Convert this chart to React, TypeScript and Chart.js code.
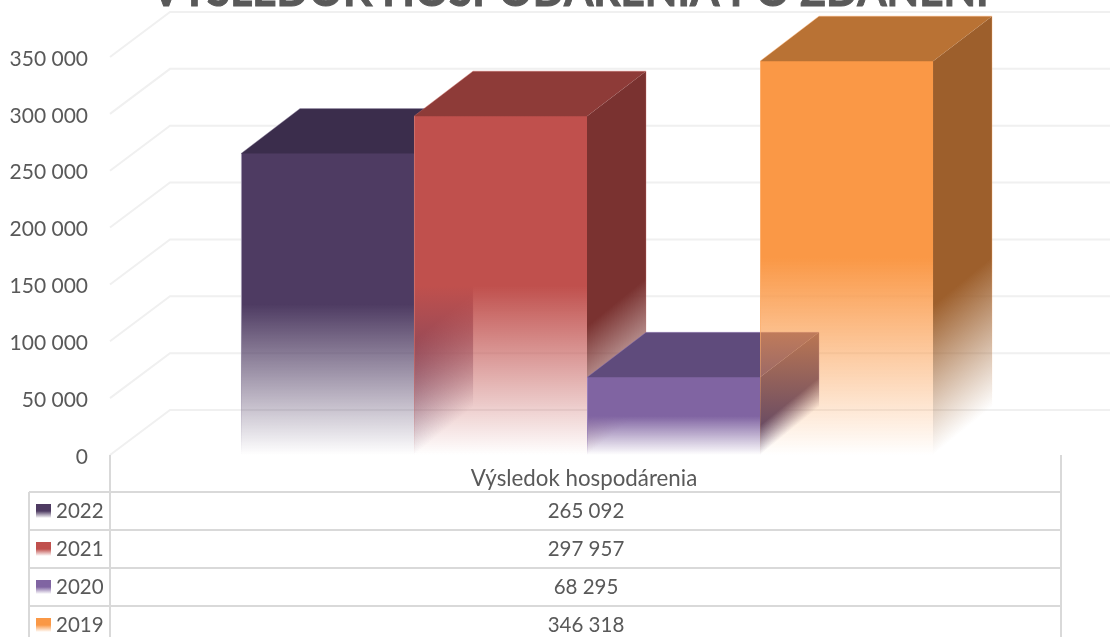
import React, { useEffect, useRef } from "react";
import { Chart, registerables } from "chart.js";

Chart.register(...registerables);

const categories = ["Výsledok hospodárenia"];
const years = ["2022", "2021", "2020", "2019"];
const values2022 = [265092];
const values2021 = [297957];
const values2020 = [68295];
const values2019 = [346318];
const tickStep = 50000;
const axisMax = 350000;
const titleText = "VÝSLEDOK HOSPODÁRENIA PO ZDANENÍ";

const frontRgb = [[78, 59, 98], [192, 80, 77], [128, 100, 162], [250, 152, 70]];
const edgeRgb = [[160, 150, 175], [205, 110, 105], [150, 125, 185], [252, 175, 110]];
const sideRgb = [[82, 63, 104], [122, 50, 48], [82, 63, 104], [157, 95, 44]];
const topRgb = [[59, 45, 76], [142, 59, 56], [95, 75, 124], [185, 114, 52]];

const DX = 59;
const DY = 45;
const fontFamily = "Lato";
const textColor = "#595959";
const gridColor = "#f0f0f0";
const tableLine = "#d9d9d9";

const fmt = (v: number) => String(v).replace(/\B(?=(\d{3})+$)/g, " ");
const rgba = (c: number[], a: number) => `rgba(${c[0]},${c[1]},${c[2]},${a})`;

function vGrad(ctx: CanvasRenderingContext2D, top: number, bottom: number, c: number[]) {
  if (!Number.isFinite(top) || !Number.isFinite(bottom)) return rgba(c, 1) as any;
  const g = ctx.createLinearGradient(0, top, 0, bottom);
  g.addColorStop(0, rgba(c, 1));
  g.addColorStop(0.5, rgba(c, 1));
  g.addColorStop(1, rgba(c, 0));
  return g;
}

function sideGrad(ctx: CanvasRenderingContext2D, x: number, top: number, bottom: number, c: number[], a = 1) {
  const k = 48;
  const norm = Math.hypot(k, DX);
  const t = ((bottom - top) * DX) / norm;
  const g = ctx.createLinearGradient(x, top, x + (k / norm) * t, top + (DX / norm) * t);
  g.addColorStop(0, rgba(c, a));
  g.addColorStop(0.62, rgba(c, a));
  g.addColorStop(1, rgba(c, 0));
  return g;
}

const wallPlugin = {
  id: "wall3d",
  beforeDatasetsDraw(chart: any) {
    const ctx: CanvasRenderingContext2D = chart.ctx;
    const y = chart.scales.y;
    const area = chart.chartArea;

    // back wall gridlines + left wall diagonals
    ctx.save();
    ctx.strokeStyle = gridColor;
    ctx.lineWidth = 2;
    for (const t of y.ticks) {
      const py = y.getPixelForValue(t.value);
      ctx.beginPath();
      ctx.moveTo(area.left - 3, py);
      ctx.lineTo(area.left - 3 + DX + 1, py - DY);
      ctx.lineTo(chart.width, py - DY);
      ctx.stroke();
    }
    ctx.restore();

    // bars: back faces first, then the front, left to right
    chart.data.datasets.forEach((_: any, i: number) => {
      const el = chart.getDatasetMeta(i).data[0];
      const x1 = el.x - el.width / 2;
      const x2 = el.x + el.width / 2;
      const top = el.y;
      const base = el.base;
      ctx.save();
      ctx.fillStyle = sideGrad(ctx, x2, top, base, sideRgb[i]);
      ctx.beginPath();
      ctx.moveTo(x2, top);
      ctx.lineTo(x2 + DX, top - DY);
      ctx.lineTo(x2 + DX, base - DY);
      ctx.lineTo(x2, base);
      ctx.closePath();
      ctx.fill();
      // faint lighter edge on the back of the side face
      ctx.strokeStyle = sideGrad(ctx, x2, top, base, edgeRgb[i], 0.35);
      ctx.lineWidth = 1;
      ctx.beginPath();
      ctx.moveTo(x2 + DX, top - DY);
      ctx.lineTo(x2 + DX, base - DY);
      ctx.stroke();
      ctx.fillStyle = rgba(topRgb[i], 1);
      ctx.beginPath();
      ctx.moveTo(x1, top);
      ctx.lineTo(x1 + DX, top - DY);
      ctx.lineTo(x2 + DX, top - DY);
      ctx.lineTo(x2, top);
      ctx.lineTo(x2, top + 1);
      ctx.lineTo(x1, top + 1);
      ctx.closePath();
      ctx.fill();
      ctx.strokeStyle = rgba(edgeRgb[i], 0.45);
      ctx.beginPath();
      ctx.moveTo(x1, top);
      ctx.lineTo(x1 + DX, top - DY);
      ctx.lineTo(x2 + DX, top - DY);
      ctx.stroke();
      ctx.restore();
      el.draw(ctx);
      // lighter left edge of the front face
      ctx.save();
      ctx.fillStyle = vGrad(ctx, top, base, edgeRgb[i]);
      ctx.fillRect(Math.round(x1), top, 1, base - top);
      ctx.restore();
    });
    return false;
  },
  afterDraw(chart: any) {
    const ctx: CanvasRenderingContext2D = chart.ctx;
    const area = chart.chartArea;
    const left = 29;
    const axisX = area.left - 3;
    const right = area.right;
    const rows = [492, 530, 568, 606];
    const rowH = 38;
    const H = chart.height;

    ctx.save();
    // title (cut by the top of the picture)
    ctx.save();
    ctx.translate(570, 6);
    ctx.scale(0.91, 1);
    ctx.fillStyle = textColor;
    ctx.strokeStyle = textColor;
    ctx.lineWidth = 1;
    ctx.font = `bold 46.5px ${fontFamily}`;
    ctx.textAlign = "center";
    ctx.textBaseline = "alphabetic";
    ctx.fillText(titleText, 0, 0);
    ctx.strokeText(titleText, 0, 0);
    ctx.restore();

    // data table lines
    ctx.strokeStyle = tableLine;
    ctx.lineWidth = 2;
    ctx.beginPath();
    ctx.moveTo(axisX, area.bottom);
    ctx.lineTo(axisX, H);
    ctx.moveTo(right, area.bottom);
    ctx.lineTo(right, H);
    ctx.moveTo(left, rows[0]);
    ctx.lineTo(left, H);
    rows.forEach((r) => {
      ctx.moveTo(left, r);
      ctx.lineTo(right, r);
    });
    ctx.stroke();

    // rows
    ctx.font = `20.5px ${fontFamily}`;
    ctx.textBaseline = "middle";
    chart.data.datasets.forEach((ds: any, i: number) => {
      const cy = rows[i] + rowH / 2;
      ctx.fillStyle = vGrad(ctx, cy - 7, cy + 7, frontRgb[i]);
      ctx.fillRect(36, cy - 7, 15, 14);
      ctx.fillStyle = textColor;
      ctx.textAlign = "left";
      ctx.fillText(ds.label, 56, cy);
      ctx.textAlign = "center";
      ctx.fillText(fmt(ds.data[0]), 586, cy);
    });
    ctx.restore();
  },
};

export default function App() {
  const ref = useRef<HTMLCanvasElement>(null);
  useEffect(() => {
    const series = [values2022, values2021, values2020, values2019];
    const faceFill = (c: any, i: number, colors: number[][]) => {
      const y = c.chart.scales.y;
      return vGrad(c.chart.ctx, y ? y.getPixelForValue(series[i][0]) : NaN, y ? y.getPixelForValue(0) : NaN, colors[i]);
    };
    const chart = new Chart(ref.current as HTMLCanvasElement, {
      type: "bar",
      data: {
        labels: categories,
        datasets: years.map((label, i) => ({
          label,
          data: series[i],
          backgroundColor: (c: any) => faceFill(c, i, frontRgb),
          borderWidth: 0,
          categoryPercentage: 0.73,
          barPercentage: 1,
        })),
      },
      options: {
        responsive: false,
        animation: false,
        layout: { padding: { top: 57, left: 0, right: 49, bottom: 0 } },
        plugins: { legend: { display: false }, tooltip: { enabled: false }, title: { display: false } },
        scales: {
          x: {
            grid: { display: false, drawTicks: false },
            border: { display: false },
            ticks: {
              color: textColor,
              font: { family: fontFamily, size: 22.3 },
              padding: 10,
              labelOffset: -3,
              maxRotation: 0,
            },
            afterFit: (s: any) => {
              s.height = 182;
            },
          },
          y: {
            min: 0,
            max: axisMax,
            grid: { display: false, drawTicks: false },
            border: { display: false },
            ticks: {
              stepSize: tickStep,
              color: textColor,
              font: { family: fontFamily, size: 21 },
              padding: 25,
              labelOffset: 2,
              callback: (v: any) => fmt(Number(v)),
            },
            afterFit: (s: any) => {
              s.width = 113;
            },
          },
        },
      } as any,
      plugins: [wallPlugin as any],
    });
    return () => chart.destroy();
  }, []);
  return (
    <div style={{ position: "fixed", left: 0, top: 0, width: 1110, height: 637, background: "#fff", overflow: "hidden" }}>
      <canvas ref={ref} width={1110} height={637} style={{ display: "block" }} />
    </div>
  );
}
